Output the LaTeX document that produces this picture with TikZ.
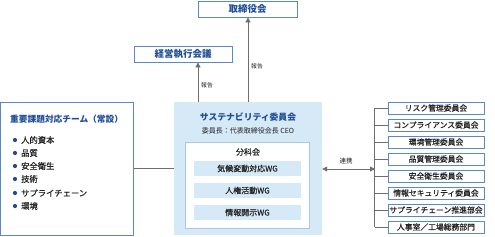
\documentclass[tikz,border=0pt]{standalone}
\usepackage{fontspec}
\setmainfont{Noto Sans CJK JP}
\newfontfamily\medfont[FakeBold=0.6]{Noto Sans CJK JP}
\usetikzlibrary{arrows.meta}
\definecolor{bordblue}{HTML}{5A8AC6}
\definecolor{txtblue}{HTML}{1F4E96}
\definecolor{paleblue}{HTML}{D5E9F6}
\definecolor{innerbord}{HTML}{A9C8E2}
\definecolor{linegray}{HTML}{6E6E6E}
\definecolor{txtdark}{HTML}{222222}
\tikzset{
  box/.style={draw=bordblue, line width=0.8pt, fill=white, rectangle, inner sep=0pt},
  headbox/.style={box, text=txtblue, font=\fontsize{9.5}{11}\selectfont\bfseries},
  combox/.style={box, text=txtdark, minimum width=96pt, minimum height=12pt, font=\fontsize{7.8}{9}\selectfont\medfont},
  wgbox/.style={rectangle, fill=paleblue, inner sep=0pt, minimum width=107pt, minimum height=15pt, text=txtdark, font=\fontsize{8}{9}\selectfont\medfont},
  conn/.style={draw=linegray, line width=0.8pt},
  arr/.style={conn, -{Triangle[width=5pt,length=5pt]}},
  darr/.style={conn, {Triangle[width=5pt,length=5pt]}-{Triangle[width=5pt,length=5pt]}},
  smalllbl/.style={font=\fontsize{5.8}{6}\selectfont, text=txtdark, inner sep=0pt},
  itemtxt/.style={anchor=west, inner sep=0pt, text=txtdark, font=\fontsize{8.3}{9}\selectfont\medfont},
}
\begin{document}
\begin{tikzpicture}[x=1pt,y=-1pt]
\useasboundingbox (0,0) rectangle (495,236);

% top boxes
\node[headbox, minimum width=99pt, minimum height=16pt] (board) at (247.5,9) {取締役会};
\node[headbox, minimum width=98pt, minimum height=16pt] (keiei) at (183,54) {経営執行会議};

% sustainability committee
\node[rectangle, fill=paleblue, inner sep=0pt, minimum width=148pt, minimum height=133pt] (sus) at (248,168.5) {};
\node[inner sep=0pt, text=txtblue, font=\fontsize{8.8}{10}\selectfont\bfseries] (sustitle) at (248,117) {サステナビリティ委員会};
\node[inner sep=0pt, text=txtdark, font=\fontsize{7}{8}\selectfont] (sussub) at (248,131) {委員長：代表取締役会長 CEO};
\node[draw=innerbord, line width=0.8pt, fill=white, rectangle, inner sep=0pt, minimum width=124pt, minimum height=86pt] (inner) at (247,185) {};
\node[inner sep=0pt, text=txtdark, font=\fontsize{8}{9}\selectfont\medfont] (bunka) at (248,152) {分科会};
\node[wgbox] (wg1) at (247.5,168.5) {気候変動対応WG};
\node[wgbox] (wg2) at (247.5,190.5) {人権活動WG};
\node[wgbox] (wg3) at (247.5,212.5) {情報開示WG};

% arrows up
\coordinate (la) at (198,102);
\draw[arr] (la) -- (keiei.south -| la);
\node[smalllbl, anchor=west] (rep1) at (201,85) {報告};
\draw[arr] (sus.north) -- (board.south -| sus.north);
\node[smalllbl, anchor=west] (rep2) at (251,66) {報告};

% left team box
\node[box, minimum width=133pt, minimum height=133pt] (team) at (67,168.5) {};
\node[anchor=west, inner sep=0pt, text=txtblue, font=\fontsize{8.7}{10}\selectfont\bfseries] (teamtitle) at (10,119) {重要課題対応チーム（常設）};
\foreach \t/\y [count=\i] in {人的資本/140, 品質/153, 安全衛生/166, 技術/179, サプライチェーン/193, 環境/206}{
  \fill[txtblue] (15,\y) circle (2.1pt);
  \node[itemtxt] (item\i) at (21,\y) {\t};
}
\draw[conn] (team.east) -- (sus.west);

% committees
\foreach \t [count=\i from 0] in {リスク管理委員会, コンプライアンス委員会, 環境管理委員会, 品質管理委員会, 安全衛生委員会, 情報セキュリティ委員会, サプライチェーン推進部会, 人事室／工場総務部門}{
  \node[combox] (c\i) at (436,108+17*\i) {\t};
  \draw[conn] (c\i.west) -- ++(-13,0);
}
\draw[conn] ([xshift=-13pt]c0.west) -- ([xshift=-13pt]c7.west);
\coordinate (brk) at (375,169);
\draw[darr] (sus.east |- brk) -- (brk);
\node[smalllbl, font=\fontsize{6.5}{7}\selectfont] (renkei) at (346,161) {連携};
\end{tikzpicture}
\end{document}
